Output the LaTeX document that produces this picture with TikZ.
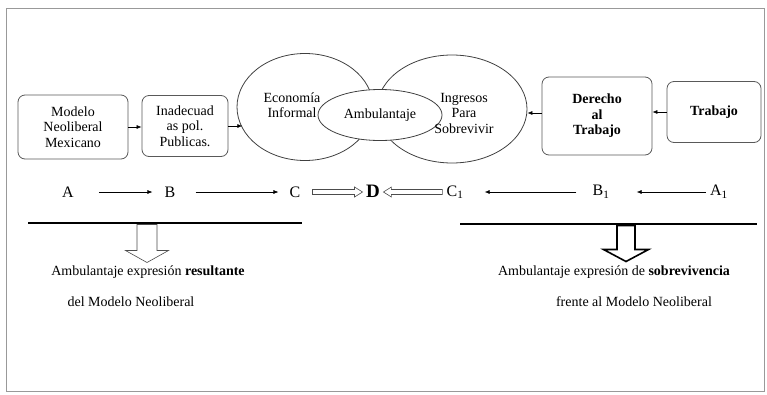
\documentclass[tikz,border=0pt]{standalone}
\usepackage{fontspec}
\setmainfont{Liberation Serif}
\usetikzlibrary{arrows.meta,shapes.geometric,positioning,calc}
% hollow horizontal arrow: #1 shaft length, #2 head length (signed)
\newcommand{\hueca}[2]{
	++(0,-2.5) --
	++(#1,0) --
	++(0,-2.5) --
	++(#2,5) --
	++({-(#2)},5) --
	++(0,-2.5) --
	++({-(#1)},0) --
	cycle
	}
% hollow arrow pointing down: #1 shaft half width, #2 head half width, #3 shaft length, #4 head length
\newcommand{\huecabajo}[4]{
	++(-#1,0) --
	++(0,#3) --
	++({-(#2-#1)},0) --
	++(#2,#4) --
	++(#2,-#4) --
	++({-(#2-#1)},0) --
	++(0,-#3) --
	cycle
	}

\begin{document}
\begin{tikzpicture}[x=1pt,y=-1pt,
	caja/.style={draw=black!65, rounded corners=7pt, line width=0.8pt, align=center, inner sep=2pt,
		font=\fontsize{14}{15.5}\selectfont},
	elipse/.style={draw=black!75, ellipse, line width=0.8pt, inner sep=0pt},
	texto/.style={align=center, font=\fontsize{14}{15.5}\selectfont},
	letra/.style={inner sep=0pt, font=\fontsize{16}{18}\selectfont},
	flecha/.style={-{Latex[length=5pt,width=4pt]}, line width=0.6pt},
	hueca/.style={draw=black!70, line width=0.6pt, fill=white},
	barra/.style={line width=2.5pt}]

	\useasboundingbox (0,0) rectangle (767,394);
	\draw[black!40, line width=1pt] (6,8) rectangle (764,391);

	% top row
	\node[caja, minimum width=110pt, minimum height=64pt] (modelo) at (73,127) {Modelo\\Neoliberal\\Mexicano};
	\node[caja, minimum width=86pt, minimum height=61pt] (politicas) at (185,126) {Inadecuad\\as pol.\\Publicas.};
	\node[elipse, minimum width=136pt, minimum height=107pt] (economia) at (305,107) {};
	\node[elipse, minimum width=150pt, minimum height=108pt] (ingresos) at (452,109) {};
	\node[elipse, fill=white, minimum width=124pt, minimum height=51pt, texto] (ambulantaje) at (380,115) {Ambulantaje};
	\node[texto] (economiatxt) at (292,105) {Economía\\Informal};
	\node[texto] (ingresostxt) at (464,113) {Ingresos\\Para\\Sobrevivir};
	\node[caja, minimum width=110pt, minimum height=78pt, font=\fontsize{14}{15.5}\selectfont\bfseries] (derecho) at (597,116) {Derecho\\al\\Trabajo};
	\node[caja, minimum width=94pt, minimum height=61pt, font=\fontsize{14}{15.5}\selectfont\bfseries] (trabajo) at (714,112) {Trabajo};

	\draw[flecha] (modelo.east) -- (modelo.east -| politicas.west);
	\draw[flecha] (politicas.east) -- (politicas.east -| economia.199);
	\draw[flecha] (derecho.west) ++(0,-3) -- (ingresos.east |- {$(derecho.west)+(0,-3)$});
	\draw[flecha] (trabajo.west) -- (trabajo.west -| derecho.east);

	% letters
	\node[letra] (A) at (68,192) {A};
	\node[letra] (B) at (170,192) {B};
	\node[letra] (C) at (295,192) {C};
	\node[letra, font=\fontsize{19}{20}\selectfont\bfseries] (D) at (373,191) {D};
	\node[letra] (C1) at (455,192) {C\textsubscript{1}};
	\node[letra] (B1) at (601,192) {B\textsubscript{1}};
	\node[letra] (A1) at (719,192) {A\textsubscript{1}};

	\draw[flecha, shorten <=25pt, shorten >=12pt] (A) -- (B);
	\draw[flecha, shorten <=20pt, shorten >=11pt] (B) -- (C);
	\draw[flecha, shorten <=16pt, shorten >=21pt] (B1) -- (C1);
	\draw[flecha, shorten <=4pt, shorten >=27pt] (A1) -- (B1);

	\draw[hueca] ($(C.east)+(12,0)$) \hueca{42}{8};
	\draw[hueca] ($(C1.west)+(-4,0)$) \hueca{-51}{-8};

	% bars and results
	\draw[barra] (28,223) -- (302,223);
	\draw[barra] (460,224) -- (757,224);
	\draw[hueca] (147,224.5) \huecabajo{10}{21.5}{26}{12};
	\draw[hueca, draw=black, line width=1.6pt] (626,225.5) \huecabajo{9}{22.5}{24}{12};

	\node[texto] (resultante) at (148,272) {Ambulantaje expresión \textbf{resultante}};
	\node[texto] (delmodelo) at (131,302) {del Modelo Neoliberal};
	\node[texto] (sobrevivencia) at (614,272) {Ambulantaje expresión de \textbf{sobrevivencia}};
	\node[texto] (frente) at (634,302) {frente al Modelo Neoliberal};

\end{tikzpicture}
\end{document}
